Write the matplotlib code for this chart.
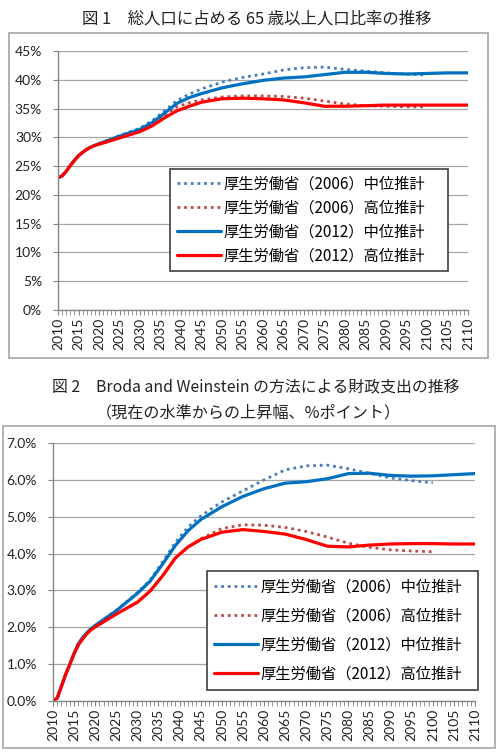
import matplotlib
matplotlib.use('Agg')
import matplotlib.pyplot as plt
import numpy as np
from matplotlib.patches import Rectangle
from matplotlib.ticker import MultipleLocator

plt.rcParams['font.family'] = ['Noto Sans CJK JP', 'DejaVu Sans']

nan = np.nan
years = [2010, 2011, 2012, 2013, 2014, 2015, 2016, 2017, 2018, 2019, 2020,
         2025, 2030, 2033, 2036, 2039, 2042, 2045, 2050, 2055, 2060, 2065,
         2070, 2075, 2080, 2085, 2090, 2095, 2100, 2105, 2110]

labels = ['厚生労働省（2006）中位推計', '厚生労働省（2006）高位推計',
          '厚生労働省（2012）中位推計', '厚生労働省（2012）高位推計']

# 図1: 65歳以上人口比率 (%)
f1_2006_mid = [23.0, 23.3, 24.1, 25.1, 26.0, 26.8, 27.4, 27.9, 28.3, 28.6, 28.9,
               30.3, 31.6, 32.9, 34.6, 36.4, 37.5, 38.4, 39.6, 40.4, 41.0, 41.7,
               42.1, 42.2, 41.8, 41.5, 41.2, 41.0, 40.8, nan, nan]
f1_2006_high = [23.0, 23.3, 24.1, 25.1, 26.0, 26.8, 27.4, 27.9, 28.3, 28.6, 28.8,
                29.9, 31.0, 32.2, 33.8, 35.3, 36.0, 36.5, 37.0, 37.2, 37.2, 37.1,
                36.8, 36.3, 35.8, 35.5, 35.4, 35.3, 35.3, nan, nan]
f1_2012_mid = [23.0, 23.3, 24.1, 25.1, 26.0, 26.8, 27.4, 27.9, 28.3, 28.6, 28.9,
               30.2, 31.4, 32.6, 34.2, 35.9, 36.9, 37.6, 38.6, 39.3, 39.9, 40.3,
               40.5, 40.9, 41.3, 41.3, 41.1, 41.0, 41.1, 41.2, 41.2]
f1_2012_high = [23.0, 23.3, 24.1, 25.1, 26.0, 26.8, 27.4, 27.9, 28.3, 28.6, 28.8,
                29.9, 31.0, 32.0, 33.4, 34.6, 35.4, 36.1, 36.7, 36.8, 36.7, 36.5,
                36.0, 35.4, 35.4, 35.5, 35.6, 35.6, 35.6, 35.6, 35.6]

# 図2: 財政支出の上昇幅 (%ポイント)
f2_2006_mid = [0.00, 0.08, 0.40, 0.72, 1.00, 1.30, 1.55, 1.72, 1.85, 1.96, 2.05,
               2.46, 2.94, 3.28, 3.78, 4.30, 4.72, 5.02, 5.40, 5.70, 6.00, 6.27,
               6.38, 6.40, 6.30, 6.18, 6.05, 5.98, 5.92, nan, nan]
f2_2006_high = [0.00, 0.08, 0.40, 0.72, 1.00, 1.28, 1.52, 1.68, 1.82, 1.93, 2.01,
                2.36, 2.68, 2.98, 3.40, 3.88, 4.18, 4.40, 4.68, 4.78, 4.77, 4.71,
                4.60, 4.45, 4.28, 4.17, 4.10, 4.07, 4.05, nan, nan]
f2_2012_mid = [0.00, 0.08, 0.40, 0.72, 1.00, 1.30, 1.55, 1.72, 1.85, 1.96, 2.05,
               2.45, 2.92, 3.25, 3.72, 4.22, 4.62, 4.92, 5.27, 5.55, 5.76, 5.91,
               5.95, 6.03, 6.17, 6.18, 6.12, 6.10, 6.11, 6.14, 6.17]
f2_2012_high = [0.00, 0.08, 0.40, 0.72, 1.00, 1.28, 1.52, 1.68, 1.82, 1.93, 2.01,
                2.36, 2.68, 2.98, 3.40, 3.88, 4.18, 4.38, 4.58, 4.65, 4.60, 4.53,
                4.38, 4.20, 4.18, 4.23, 4.26, 4.27, 4.27, 4.26, 4.26]

W, H = 499, 753
fig = plt.figure(figsize=(W / 100, H / 100), dpi=100)


def px_rect(x0, y0, x1, y1):
    # pixel box (top-left origin) -> figure fraction [l, b, w, h]
    return [x0 / W, 1 - y1 / H, (x1 - x0) / W, (y1 - y0) / H]


def frame(x0, y0, x1, y1):
    l, b, w, h = px_rect(x0, y0, x1, y1)
    fig.patches.append(Rectangle((l, b), w, h, transform=fig.transFigure,
                                 fill=False, edgecolor='#A6A6A6', lw=1.2))


styles = [dict(color='#4A7EBB', lw=2.0, ls=(0, (1, 1.4))),
          dict(color='#BE4B48', lw=2.0, ls=(0, (1, 1.4))),
          dict(color='#0070C0', lw=2.3, ls='-'),
          dict(color='#FF0000', lw=2.3, ls='-')]


def draw(ax, series, ymax, ystep, fmt, leg_box, spacing):
    for s, st, lab in zip(series, styles, labels):
        ax.plot(years, s, label=lab, solid_capstyle='round', **st)
    ax.set_xlim(2010, 2110)
    ax.set_ylim(0, ymax)
    yt = np.arange(0, ymax + ystep / 2, ystep)
    ax.set_yticks(yt)
    ax.set_yticklabels([fmt.format(v) for v in yt], family='Lato', fontsize=10,
                       color='#222222')
    xt = list(range(2010, 2111, 5))
    ax.set_xticks(xt)
    ax.set_xticklabels([str(v) for v in xt], rotation=90, family='Lato', fontsize=10,
                       color='#222222')
    ax.xaxis.set_minor_locator(MultipleLocator(1))
    ax.tick_params(axis='x', which='both', length=3.5, color='#868686', pad=2)
    ax.tick_params(axis='y', length=3.5, color='#868686', pad=8)
    ax.grid(axis='y', color='#A6A6A6', lw=0.9)
    ax.set_axisbelow(True)
    for sp in ['top', 'right']:
        ax.spines[sp].set_visible(False)
    for sp in ['left', 'bottom']:
        ax.spines[sp].set_color('#868686')
        ax.spines[sp].set_linewidth(1.0)
    leg = ax.legend(loc='center', bbox_to_anchor=leg_box, mode='expand',
                    fontsize=11, handlelength=2.9, handletextpad=0.15,
                    labelspacing=spacing, borderpad=0.45, fancybox=False,
                    framealpha=1, borderaxespad=0)
    leg.get_frame().set_edgecolor('#404040')
    leg.get_frame().set_linewidth(1.2)


# 図1
frame(9, 33, 488, 358)
fig.text(257 / W, 1 - 19 / H, '図 1　総人口に占める 65 歳以上人口比率の推移',
         ha='center', va='center', fontsize=11.8, color='#222222')
ax1 = fig.add_axes(px_rect(58, 51, 468, 310))
draw(ax1, [f1_2006_mid, f1_2006_high, f1_2012_mid, f1_2012_high], 45, 5, '{:.0f}%',
     ((170 - 58) / 410, (310 - 274) / 259, (448 - 170) / 410, (274 - 166) / 259), 0.45)

# 図2
frame(3, 426, 495, 748)
fig.text(256 / W, 1 - 388 / H, '図 2　Broda and Weinstein の方法による財政支出の推移',
         ha='center', va='center', fontsize=11.4, color='#222222')
fig.text(248 / W, 1 - 413 / H, '（現在の水準からの上昇幅、%ポイント）',
         ha='center', va='center', fontsize=11.6, color='#222222')
ax2 = fig.add_axes(px_rect(53, 443, 475, 701))
draw(ax2, [f2_2006_mid, f2_2006_high, f2_2012_mid, f2_2012_high], 7, 1, '{:.1f}%',
     ((207 - 53) / 422, (701 - 693) / 258, (478 - 207) / 422, (693 - 568) / 258), 0.8)

fig.savefig('out.png', dpi=100)
